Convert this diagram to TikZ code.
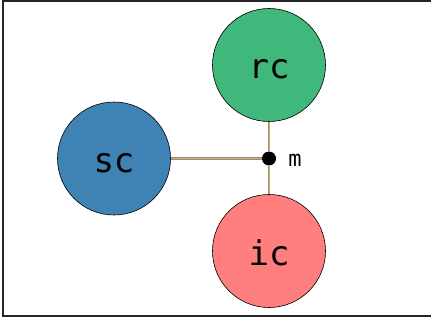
\documentclass[tikz,border=0pt]{standalone}
\usepackage{fontspec}
\setmonofont{DejaVu Sans Mono}
\definecolor{scblue}{RGB}{62,131,180}
\definecolor{rcgreen}{RGB}{64,183,123}
\definecolor{icred}{RGB}{255,127,127}
\definecolor{linkgold}{RGB}{215,180,90}
\definecolor{linkgray}{RGB}{140,140,140}
\begin{document}
\begin{tikzpicture}[x=1pt,y=1pt,
  ball/.style={circle,draw=black,line width=0.6pt,minimum size=113pt,inner sep=0pt,
    text height=28pt,text depth=0pt,
    font=\ttfamily\fontsize{34}{34}\selectfont},
  link/.style={draw=linkgray,line width=2.2pt},
  linktop/.style={draw=linkgold,line width=1.0pt}]
\useasboundingbox (0,0) rectangle (431,327);
\clip (0,0) rectangle (431,327);
\draw[line width=2pt,black!85] (3,11) rectangle (445,326);
\node[circle,fill=black,minimum size=14pt,inner sep=0pt] (m) at (269,168.5) {};
\node[ball,fill=scblue] (sc) at (114,168.5) {sc};
\node[ball,fill=rcgreen] (rc) at (269,262) {rc};
\node[ball,fill=icred] (ic) at (269,76) {ic};
\node[font=\ttfamily\fontsize{22}{22}\selectfont,anchor=base west,inner sep=0pt] (ml) at ([xshift=12pt,yshift=-8pt]m.east) {m};
\draw[link] (sc.east) -- (m.west);
\draw[link] (rc.south) -- (m.north);
\draw[link] (m.south) -- (ic.north);
\draw[linktop] (sc.east) -- (m.west);
\draw[linktop] (rc.south) -- (m.north);
\draw[linktop] (m.south) -- (ic.north);
\end{tikzpicture}
\end{document}
